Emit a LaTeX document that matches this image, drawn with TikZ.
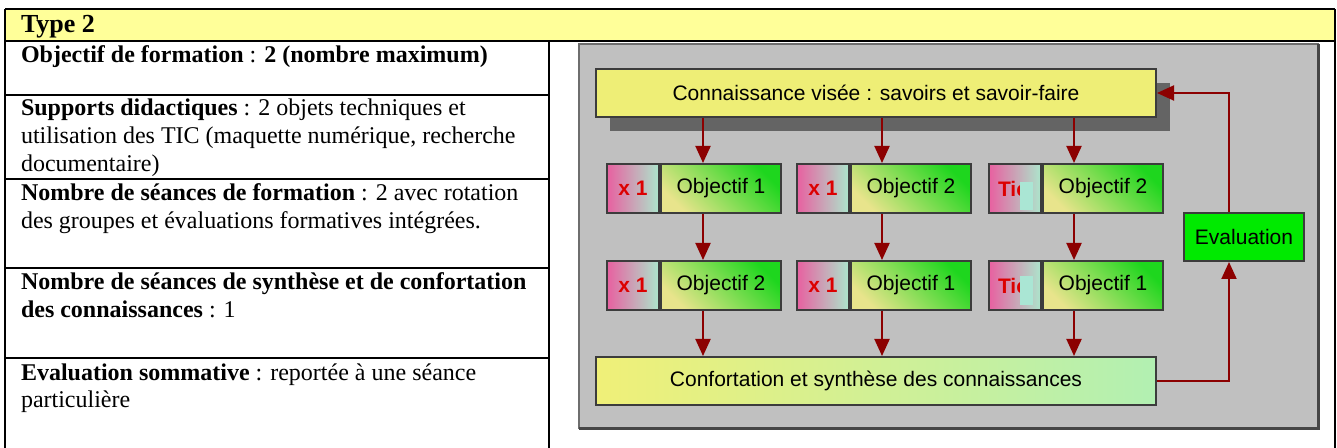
\documentclass[tikz,border=0pt]{standalone}
\usepackage{fontspec}
\setmainfont{Liberation Serif}
\setsansfont{Liberation Sans}
\usetikzlibrary{arrows.meta}

\begin{document}
\begin{tikzpicture}[x=0.5pt,y=-0.5pt,
  cellText/.style={anchor=base west,inner sep=0pt,outer sep=0pt,font=\fontsize{12}{13.8}\selectfont},
  boxLine/.style={draw=boxColor,line width=1pt,rectangle,inner sep=0pt,anchor=north west,font=\sffamily\fontsize{10.5}{12}\selectfont},
  tagBox/.style={boxLine,minimum width=26pt,minimum height=24.5pt,left color=tagLeft,right color=tagRight,text=tagText,font=\sffamily\bfseries\fontsize{10.5}{12}\selectfont},
  ticBox/.style={tagBox,text width=17pt,align=left},
  goalBox/.style={boxLine,minimum width=60pt,minimum height=24.5pt,bottom color=goalLow,top color=goalHigh,shading angle=-45},
  wideBox/.style={boxLine,minimum width=280pt,minimum height=24pt},
  arrowLine/.style={draw=arrowColor,line width=1pt,-{Triangle[length=8.5pt,width=7.5pt]}}]
\definecolor{fillColor}{RGB}{255,255,255}
\definecolor{drawColor}{RGB}{0,0,0}
\definecolor{headColor}{RGB}{255,255,153}
\definecolor{panelColor}{RGB}{192,192,192}
\definecolor{panelEdge}{RGB}{110,110,110}
\definecolor{panelDark}{RGB}{70,70,70}
\definecolor{shadowColor}{RGB}{100,100,100}
\definecolor{boxColor}{RGB}{60,60,60}
\definecolor{knowColor}{RGB}{238,238,118}
\definecolor{synthLeft}{RGB}{240,240,120}
\definecolor{synthRight}{RGB}{178,240,178}
\definecolor{tagLeft}{RGB}{232,96,160}
\definecolor{tagRight}{RGB}{172,230,204}
\definecolor{tagText}{RGB}{220,0,0}
\definecolor{goalLow}{RGB}{232,228,140}
\definecolor{goalHigh}{RGB}{30,214,30}
\definecolor{evalColor}{RGB}{0,234,0}
\definecolor{maskColor}{RGB}{170,230,212}
\definecolor{arrowColor}{RGB}{140,0,0}
\path[use as bounding box,fill=fillColor] (0,0) rectangle (1337,448);

% header row
\path[fill=headColor] (5,9) rectangle (1335,41);
\node[cellText,font=\fontsize{13}{15}\selectfont\bfseries] (hdr) at (21,33) {Type 2};

% left column
\node[cellText] (obj) at (21,62.5) {\textbf{Objectif de formation} : \textbf{2 (nombre maximum)}};
\node[cellText] (sup1) at (21,116) {\textbf{Supports didactiques} : 2 objets techniques et};
\node[cellText] (sup2) at (21,143.6) {utilisation des TIC (maquette numérique, recherche};
\node[cellText] (sup3) at (21,171.2) {documentaire)};
\node[cellText] (nbf1) at (21,201) {\textbf{Nombre de séances de formation} : 2 avec rotation};
\node[cellText] (nbf2) at (21,228.6) {des groupes et évaluations formatives intégrées.};
\node[cellText] (nbs1) at (21,290) {\textbf{Nombre de séances de synthèse et de confortation}};
\node[cellText] (nbs2) at (21,317.6) {\textbf{des connaissances} : 1};
\node[cellText] (eva1) at (21,380) {\textbf{Evaluation sommative} : reportée à une séance};
\node[cellText] (eva2) at (21,407.6) {particulière};

% grey panel
\path[fill=panelColor,draw=panelEdge,line width=1pt] (579,44) rectangle (1318,428);
\path[draw=panelDark,line width=1.5pt] (1318,44) -- (1318,428) -- (579,428);
\path[fill=shadowColor] (610,83) rectangle (1170,131);

\node[wideBox,fill=knowColor] (know) at (595,68) {Connaissance visée : savoirs et savoir-faire};
\node[wideBox,left color=synthLeft,right color=synthRight] (synth) at (595,356) {Confortation et synthèse des connaissances};
\node[boxLine,fill=evalColor,minimum width=60pt,minimum height=24pt] (eval) at (1183,212) {Evaluation};

% objective boxes
\node[tagBox] (t11) at (606,163) {x 1};
\node[goalBox] (g11) at (t11.north east) {Objectif 1};
\node[tagBox] (t12) at (796,163) {x 1};
\node[goalBox] (g12) at (t12.north east) {Objectif 2};
\node[ticBox] (t13) at (988,163) {Tic};
\node[goalBox] (g13) at (t13.north east) {Objectif 2};
\node[tagBox] (t21) at (606,260) {x 1};
\node[goalBox] (g21) at (t21.north east) {Objectif 2};
\node[tagBox] (t22) at (796,260) {x 1};
\node[goalBox] (g22) at (t22.north east) {Objectif 1};
\node[ticBox] (t23) at (988,260) {Tic};
\node[goalBox] (g23) at (t23.north east) {Objectif 1};
\path[fill=maskColor] (1020,182) rectangle (1033,210);
\path[fill=maskColor] (1020,276) rectangle (1033,305);

% connectors
\coordinate (c1) at (703,0);
\coordinate (c2) at (882,0);
\coordinate (c3) at (1074,0);
\coordinate (c4) at (1229,0);
\foreach \i in {1,2,3} {
  \draw[arrowLine] (know.south -| c\i) -- (g1\i.north -| c\i);
  \draw[arrowLine] (g1\i.south -| c\i) -- (g2\i.north -| c\i);
  \draw[arrowLine] (g2\i.south -| c\i) -- (synth.north -| c\i);
}
\draw[arrowLine] (synth.east) -| (eval.south -| c4);
\draw[arrowLine] (eval.north -| c4) |- (know.east);

% table rules
\path[draw=drawColor,line width=1pt] (5,9) -- (1335,9);
\path[draw=drawColor,line width=1pt] (5,41) -- (1335,41);
\path[draw=drawColor,line width=1pt] (5,9) -- (5,448);
\path[draw=drawColor,line width=1pt] (1335,9) -- (1335,448);
\path[draw=drawColor,line width=1pt] (549,41) -- (549,448);
\foreach \y in {95,179,268,358}
  \path[draw=drawColor,line width=1pt] (5,\y) -- (549,\y);
\end{tikzpicture}
\end{document}
